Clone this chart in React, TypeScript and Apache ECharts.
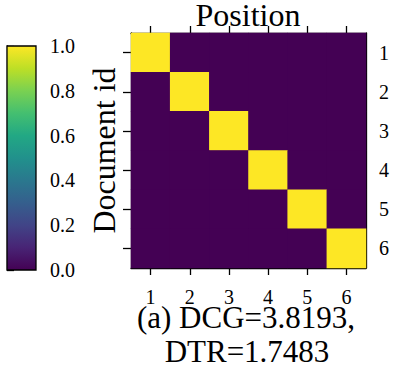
import React, { useEffect, useRef } from "react";
import * as echarts from "echarts";

const positions = ["1", "2", "3", "4", "5", "6"];
const documents = ["1", "2", "3", "4", "5", "6"];
// rows = document id, columns = position
const matrix = [
  [1, 0, 0, 0, 0, 0],
  [0, 1, 0, 0, 0, 0],
  [0, 0, 1, 0, 0, 0],
  [0, 0, 0, 1, 0, 0],
  [0, 0, 0, 0, 1, 0],
  [0, 0, 0, 0, 0, 1],
];
const colorbarMin = 0;
const colorbarMax = 1;
const colorbarStep = 0.2;
const xTitle = "Position";
const yTitle = "Document id";
const captionLines = ["(a) DCG=3.8193,", "DTR=1.7483"];
const viridis = [
  "#440154", "#482475", "#414487", "#355f8d", "#2a788e", "#21918c",
  "#22a884", "#44bf70", "#7ad151", "#bddf26", "#fde725",
];

const FONT = "Liberation Serif";

export default function App() {
  const ref = useRef<HTMLDivElement>(null);
  useEffect(() => {
    if (!ref.current) return;
    const chart = echarts.init(ref.current, undefined, { renderer: "svg" });
    const data: number[][] = [];
    matrix.forEach((row, yi) => row.forEach((v, xi) => data.push([xi, yi, v])));
    const black = "#000";
    const cb = { x: 7, y: 46, w: 29, h: 224 };
    const gradient = new echarts.graphic.LinearGradient(
      0, 1, 0, 0,
      viridis.map((c, i) => ({ offset: i / (viridis.length - 1), color: c }))
    );
    chart.setOption({
      animation: false,
      textStyle: { fontFamily: FONT, color: black },
      grid: [
        { left: 131, top: 33, width: 235, height: 235, show: true, backgroundColor: viridis[0], borderWidth: 0 },
        { left: cb.x, top: cb.y, width: cb.w, height: cb.h },
      ],
      xAxis: [
        {
          gridIndex: 0, type: "category", data: positions, position: "bottom",
          axisLine: { show: true, lineStyle: { color: black, width: 1.3 } },
          axisTick: { show: true, alignWithLabel: true, length: 7, lineStyle: { color: black, width: 1.3 } },
          axisLabel: { fontSize: 20, lineHeight: 14, color: black, margin: 22, fontFamily: FONT },
          splitLine: { show: false },
        },
        {
          gridIndex: 0, type: "category", data: positions, position: "top",
          axisLine: { show: true, lineStyle: { color: black, width: 1.3 } },
          axisTick: { show: true, alignWithLabel: true, length: 7, lineStyle: { color: black, width: 1.3 } },
          axisLabel: { show: false },
          splitLine: { show: false },
        },
        { gridIndex: 1, type: "value", show: false, min: 0, max: 1 },
      ],
      yAxis: [
        {
          gridIndex: 0, type: "category", data: documents, inverse: true, position: "left",
          axisLine: { show: true, lineStyle: { color: black, width: 1.3 } },
          axisTick: { show: true, alignWithLabel: true, length: 8, lineStyle: { color: black, width: 1.3 } },
          axisLabel: { show: false },
          splitLine: { show: false },
          name: yTitle, nameLocation: "middle", nameGap: 11, nameRotate: 90,
          nameTextStyle: { fontSize: 32, color: black, fontFamily: FONT },
        },
        {
          gridIndex: 0, type: "category", data: documents, inverse: true, position: "right",
          axisLine: { show: true, lineStyle: { color: black, width: 1.3 } },
          axisTick: { show: false },
          axisLabel: { fontSize: 20, color: black, margin: 13, fontFamily: FONT },
          splitLine: { show: false },
        },
        {
          gridIndex: 1, type: "value", min: colorbarMin, max: colorbarMax, interval: colorbarStep,
          position: "right",
          axisLine: { show: true, lineStyle: { color: black, width: 1.3 } },
          axisTick: { show: true, length: 7, lineStyle: { color: black, width: 1.3 } },
          axisLabel: {
            fontSize: 20, color: black, margin: 14, fontFamily: FONT,
            formatter: (v: number) => v.toFixed(1),
          },
          splitLine: { show: false },
        },
      ],
      visualMap: {
        type: "continuous", min: colorbarMin, max: colorbarMax, seriesIndex: 0,
        show: false,
        inRange: { color: viridis },
      },
      graphic: [
        {
          type: "rect", z: 1, silent: true,
          shape: { x: cb.x, y: cb.y, width: cb.w, height: cb.h },
          style: { fill: gradient, stroke: black, lineWidth: 1.3 },
        },
        {
          type: "text", x: 248, y: 15, z: 100,
          style: { text: xTitle, fontFamily: FONT, fontSize: 32, lineHeight: 26, fill: black, align: "center", verticalAlign: "middle" },
        },
        {
          type: "text", x: 246, y: 317, z: 100,
          style: { text: captionLines[0], fontFamily: FONT, fontSize: 31, lineHeight: 24, fill: black, align: "center", verticalAlign: "middle" },
        },
        {
          type: "text", x: 247, y: 351, z: 100,
          style: { text: captionLines[1], fontFamily: FONT, fontSize: 31, lineHeight: 24, fill: black, align: "center", verticalAlign: "middle" },
        },
      ],
      series: [
        {
          type: "heatmap", xAxisIndex: 0, yAxisIndex: 0, data,
          itemStyle: { borderWidth: 0 },
          emphasis: { disabled: true },
        },
      ],
    });
    return () => chart.dispose();
  }, []);
  return (
    <div
      ref={ref}
      style={{ position: "fixed", left: 0, top: 0, width: 395, height: 368, background: "#fff" }}
    />
  );
}
